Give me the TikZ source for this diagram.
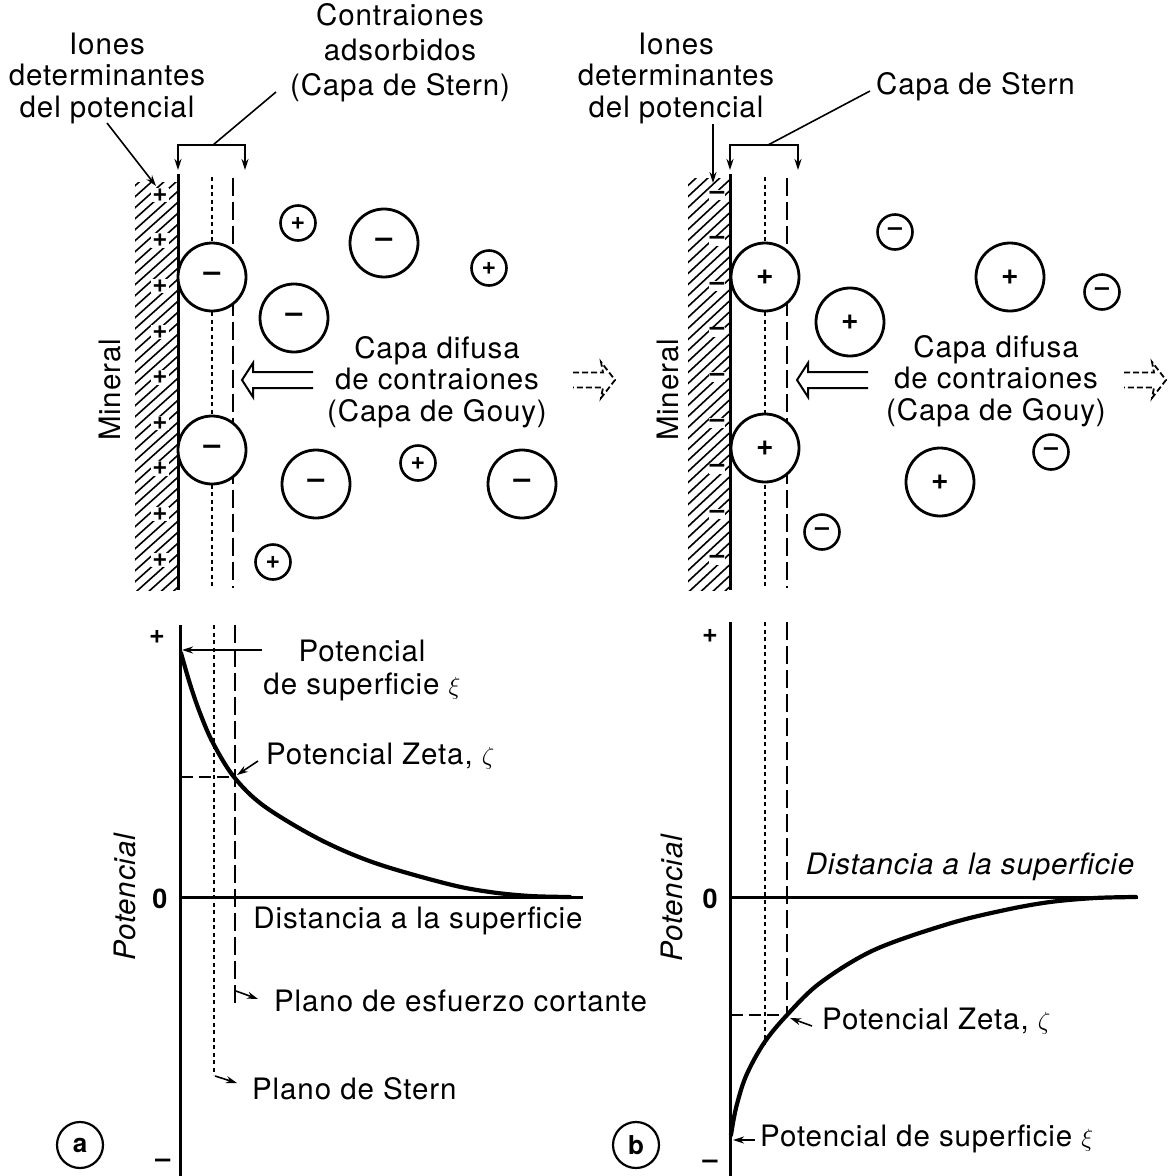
\documentclass[tikz,border=0pt]{standalone}
\usepackage{fontspec}
\setmainfont[LetterSpace=3]{TeX Gyre Heros}
\usetikzlibrary{arrows.meta}
\begin{document}
\begin{tikzpicture}[x=1pt,y=-1pt,
  txt/.style={font=\fontsize{29.5}{31.5}\selectfont, inner sep=0pt, align=center},
  txtwide/.style={font=\fontsize{29.5}{35}\selectfont, inner sep=0pt, align=center},
  txtit/.style={font=\fontsize{29.5}{31}\selectfont\itshape, inner sep=0pt},
  bigion/.style={circle, draw, line width=2.8pt, fill=white, minimum size=68pt, inner sep=0pt, font=\fontsize{30}{30}\selectfont\bfseries},
  smallion/.style={circle, draw, line width=2.6pt, fill=white, minimum size=35pt, inner sep=0pt, font=\fontsize{25}{25}\selectfont\bfseries},
  wallsign/.style={fill=white, inner sep=1pt, font=\fontsize{26}{26}\selectfont\bfseries},
  axsign/.style={inner sep=0pt, font=\fontsize{27}{27}\selectfont\bfseries},
  wall/.style={line width=3pt},
  hatch/.style={line width=1.6pt},
  lead/.style={line width=1.6pt},
  leadarrow/.style={line width=1.6pt, -{Stealth[length=11pt,width=7pt]}},
  bracket/.style={line width=1.8pt, {Stealth[length=11pt,width=7pt]}-{Stealth[length=11pt,width=7pt]}},
  sternplane/.style={line width=1.8pt, dash pattern=on 4pt off 3.5pt},
  shearplane/.style={line width=1.8pt, dash pattern=on 18pt off 6pt},
  zetaline/.style={line width=1.6pt, dash pattern=on 12pt off 6pt},
  curve/.style={line width=4.2pt, line cap=round, line join=round},
  axisline/.style={line width=3pt},
  hollow/.style={line width=2pt, line join=miter},
  hollowdash/.style={line width=1.8pt, dash pattern=on 6pt off 3pt},
  tag/.style={circle, draw, line width=2.2pt, minimum size=46pt, inner sep=0pt, font=\fontsize{26}{26}\selectfont\bfseries},
  hollowleft/.pic={\draw[hollow] (71,-8) -- (11,-8) -- (11,-17) -- (0,0) -- (11,17) -- (11,8) -- (71,8);},
  dashright/.pic={\draw[hollowdash] (-42,-7.5) -- (-12,-7.5) -- (-14,-18) -- (0,0) -- (-14,18) -- (-12,7.5) -- (-42,7.5);},
]
\useasboundingbox[fill=white] (0,0) rectangle (1171,1176);

% ---------------- panel (a): double layer ----------------
\begin{scope}
  \clip (135,182) rectangle (178,590);
  \foreach \k in {-2,...,42} \draw[hatch] (128,192+\k*11) -- (186,140+\k*11);
\end{scope}
\foreach \k in {0,...,8} \node[wallsign] (pa\k) at (160,195+45.6*\k) {+};
\draw[wall] (178,174) -- (178,590);
\draw[sternplane] (212,177) -- (212,588);
\draw[shearplane] (233,178) -- (233,588);
\draw[bracket] (178,170) -- (178,145) -- (245,145) -- (245,170);

\foreach \p [count=\i] in {(212,277),(384,243),(294,318),(212,450),(316,484),(522,484)}
  \node[bigion] (ionAbig\i) at \p {--};
\foreach \p [count=\i] in {(298,223),(489,268),(418,463),(273,562)}
  \node[smallion] (ionAsmall\i) at \p {+};

\node[txt] (ionesA) at (107,78) {Iones\\determinantes\\del potencial};
\node[txtwide] (contraA) at (400,53) {Contraiones\\adsorbidos\\(Capa de Stern)};
\coordinate (ionesAtail) at (107,123);
\coordinate (ionesAhead) at (156,186);
\draw[leadarrow] (ionesAtail) -- (ionesAhead);
\coordinate (brA) at (213,145);
\coordinate (contraAend) at (276,92);
\draw[lead] (brA) -- (contraAend);

\node[txt, rotate=90] (minA) at (110,390) {Mineral};
\node[txt] (difA) at (437,382) {Capa difusa\\de contraiones\\(Capa de Gouy)};
\pic at (242,380) {hollowleft};
\pic at (615,380) {dashright};

% ---------------- panel (b): double layer ----------------
\begin{scope}
  \clip (688,178) rectangle (729,590);
  \foreach \k in {-2,...,42} \draw[hatch] (681,192+\k*11) -- (737,140+\k*11);
\end{scope}
\foreach \k in {0,...,8} \node[wallsign] (pb\k) at (717,195+45.6*\k) {--};
\draw[wall] (730,174) -- (730,590);
\draw[sternplane] (765,177) -- (765,588);
\draw[shearplane] (787,178) -- (787,588);
\draw[bracket] (730,170) -- (730,145) -- (798,145) -- (798,170);

\foreach \p [count=\i] in {(765,277),(1010,277),(850,322),(765,448),(940,482)}
  \node[bigion] (ionBbig\i) at \p {+};
\foreach \p [count=\i] in {(895,232),(1102,292),(1051,452),(822,532)}
  \node[smallion] (ionBsmall\i) at \p {--};

\node[txt] (ionesB) at (676,78) {Iones\\determinantes\\del potencial};
\node[txt, anchor=west] (sternB) at (876,87) {Capa de Stern};
\coordinate (ionesBtail) at (713,124);
\coordinate (ionesBhead) at (713,183);
\draw[leadarrow] (ionesBtail) -- (ionesBhead);
\coordinate (brB) at (768,145);
\coordinate (sternBend) at (870,91);
\draw[lead] (brB) -- (sternBend);

\node[txt, rotate=90] (minB) at (668,390) {Mineral};
\node[txt] (difB) at (996,381) {Capa difusa\\de contraiones\\(Capa de Gouy)};
\pic at (797,380) {hollowleft};
\pic at (1166,380) {dashright};

% ---------------- panel (a): potential curve ----------------
\draw[axisline] (180,625) -- (180,1176);
\draw[axisline] (180,897) -- (583,897);
\draw[sternplane] (214,625) -- (214,1075);
\draw[shearplane] (235,625) -- (235,1003);
\draw[zetaline] (181,777) -- (235,777);
\draw[curve] plot[smooth, tension=0.55] coordinates {(181,653) (190,684) (200,713) (213,743) (234,777) (264,806) (319,839) (375,863) (448,884) (490,892) (530,896) (570,897)};

\node[axsign] (plusA) at (157,637) {+};
\node[axsign] (zeroA) at (160,899) {0};
\node[axsign] (minusA) at (163,1163) {--};
\node[txtit, rotate=90] (potA) at (125,897) {Potencial};

\node[txt, font=\fontsize{29.5}{33}\selectfont] (surfA) at (362,670) {Potencial\\de superficie $\xi$};
\coordinate (surfAtail) at (262,650);
\coordinate (surfAhead) at (182,650);
\draw[leadarrow] (surfAtail) -- (surfAhead);

\node[txt, anchor=west] (zetaA) at (266,756) {Potencial Zeta, $\zeta$};
\coordinate (zetaAtail) at (258,761);
\coordinate (zetaAhead) at (237,775);
\draw[leadarrow] (zetaAtail) -- (zetaAhead);

\node[txt] (distA) at (418,921) {Distancia a la superficie};

\node[txt, anchor=west] (shearA) at (274,1001) {Plano de esfuerzo cortante};
\coordinate (shearAtail) at (236,991);
\coordinate (shearAhead) at (258,999);
\draw[leadarrow] (shearAtail) -- (shearAhead);

\node[txt, anchor=west] (sternA) at (252,1089) {Plano de Stern};
\coordinate (sternAtail) at (215,1076);
\coordinate (sternAhead) at (237,1083);
\draw[leadarrow] (sternAtail) -- (sternAhead);

\node[tag] (tagA) at (80,1145) {a};

% ---------------- panel (b): potential curve ----------------
\draw[axisline] (730,622) -- (730,1176);
\draw[axisline] (730,897) -- (1138,897);
\draw[sternplane] (765,622) -- (765,1045);
\draw[shearplane] (787,622) -- (787,1015);
\draw[zetaline] (731,1015) -- (787,1015);
\draw[curve] plot[smooth, tension=0.55] coordinates {(731,1135) (736,1108) (746,1076) (764,1043) (787,1015) (820,983) (874,950) (948,924) (1005,910) (1050,902) (1095,898) (1136,897)};

\node[axsign] (plusB) at (710,636) {+};
\node[axsign] (zeroB) at (710,899) {0};
\node[axsign] (minusB) at (710,1164) {--};
\node[txtit, rotate=90] (potB) at (672,898) {Potencial};

\node[txtit] (distB) at (970,867) {Distancia a la superficie};

\node[txt, anchor=west] (zetaB) at (822,1021) {Potencial Zeta, $\zeta$};
\coordinate (zetaBtail) at (812,1026);
\coordinate (zetaBhead) at (790,1018);
\draw[leadarrow] (zetaBtail) -- (zetaBhead);

\node[txt, anchor=west] (surfB) at (760,1139) {Potencial de superficie $\xi$};
\coordinate (surfBtail) at (755,1140);
\coordinate (surfBhead) at (733,1140);
\draw[leadarrow] (surfBtail) -- (surfBhead);

\node[tag] (tagB) at (636,1145) {b};
\end{tikzpicture}
\end{document}
